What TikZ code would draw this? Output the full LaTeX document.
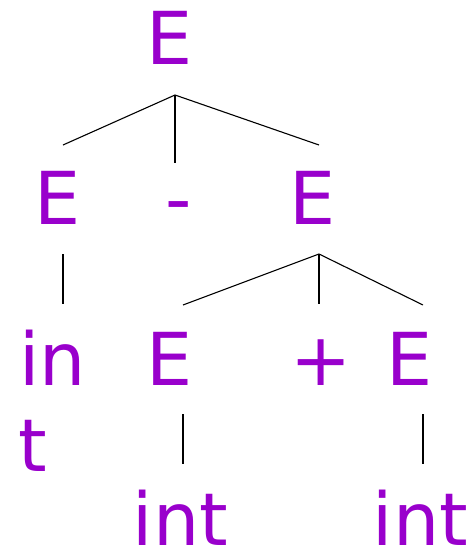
\documentclass[tikz,border=0pt]{standalone}
\usepackage{fontspec}
\setmainfont{DejaVu Sans}
\definecolor{sym}{HTML}{9900CC}
\begin{document}
\begin{tikzpicture}[x=1pt,y=-1pt,
  lbl/.style={inner sep=0pt,outer sep=0pt,anchor=base,text=sym,font=\fontsize{73}{86}\selectfont},
  edge/.style={line width=1.1pt,black}]
\useasboundingbox (0,0) rectangle (470,549);
% labels
\node[lbl] (e0) at (169.5,64) {E};
\node[lbl] (e1) at (57.5,224) {E};
\node[lbl] (mn) at (179,224) {-};
\node[lbl] (e2) at (312.5,224) {E};
\node[lbl] (in) at (52.5,385) {in};
\node[lbl] (t) at (32.5,471) {t};
\node[lbl] (e3) at (169.5,385) {E};
\node[lbl] (pl) at (321,385) {+};
\node[lbl] (e4) at (409.5,385) {E};
\node[lbl] (i1) at (180.5,545) {int};
\node[lbl] (i2) at (420.5,545) {int};
% connector ends
\coordinate (a0) at (175,95);
\coordinate (a0l) at (63,145);
\coordinate (a0m) at (175,163);
\coordinate (a0r) at (319,145);
\coordinate (b1t) at (63,254);
\coordinate (b1b) at (63,304);
\coordinate (a2) at (319,254);
\coordinate (a2l) at (183,305);
\coordinate (a2m) at (319,304);
\coordinate (a2r) at (423,305);
\coordinate (c3t) at (183,414);
\coordinate (c3b) at (183,464);
\coordinate (c4t) at (423,414);
\coordinate (c4b) at (423,464);
\draw[edge] (a0l) -- (a0) -- (a0r);
\draw[edge] (a0) -- (a0m);
\draw[edge] (b1t) -- (b1b);
\draw[edge] (a2l) -- (a2) -- (a2r);
\draw[edge] (a2) -- (a2m);
\draw[edge] (c3t) -- (c3b);
\draw[edge] (c4t) -- (c4b);
\end{tikzpicture}
\end{document}
